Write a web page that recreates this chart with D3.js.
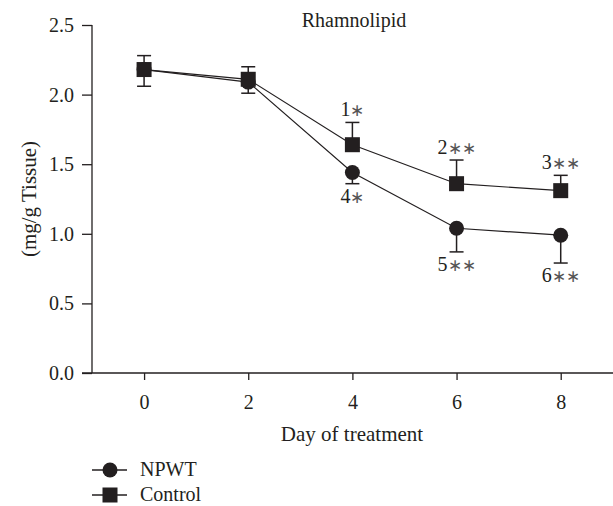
<!DOCTYPE html>
<html>
<head>
<meta charset="utf-8">
<script src="https://cdn.jsdelivr.net/npm/d3@7"></script>
<style>
  body { margin: 0; background: #fff; }
</style>
</head>
<body>
<svg width="613" height="506"></svg>
<script>
const days = [0, 2, 4, 6, 8];
const npwt = [2.18, 2.09, 1.44, 1.04, 0.99];
const npwtErr = [0.12, 0.08, 0.08, 0.17, 0.20];
const control = [2.18, 2.11, 1.64, 1.36, 1.31];
const controlErr = [0.10, 0.09, 0.16, 0.17, 0.11];
const controlMarks = ["", "", "1", "2", "3"];
const controlStars = ["", "", "∗", "∗∗", "∗∗"];
const npwtMarks = ["", "", "4", "5", "6"];
const npwtStars = ["", "", "∗", "∗∗", "∗∗"];
const yTicks = [0, 0.5, 1.0, 1.5, 2.0, 2.5];

const ink = "#231f20";
const font = "'Liberation Serif', 'Times New Roman', serif";
const svg = d3.select("svg");

const x = d3.scaleLinear().domain([-1, 9.1]).range([92, 618]);
const y = d3.scaleLinear().domain([0, 2.5]).range([373, 25]);

// AXES
const yAxis = svg.append("g")
  .attr("transform", "translate(92,0)")
  .call(d3.axisLeft(y).tickValues(yTicks).tickFormat(d3.format(".1f")).tickSize(10).tickSizeOuter(0));
yAxis.select(".domain").attr("d", `M0,${y(2.5)}V${y(0)}`);

const xAxis = svg.append("g")
  .attr("transform", "translate(0,373)")
  .call(d3.axisBottom(x).tickValues(days).tickSize(7).tickSizeOuter(0));
xAxis.select(".domain").attr("d", "M82,0H613");

svg.selectAll(".domain, .tick line").attr("stroke", ink).attr("stroke-width", 1.3);
yAxis.selectAll(".tick text").style("font-family", font).attr("font-size", 20).attr("x", -18).attr("fill", ink);
xAxis.selectAll(".tick text").style("font-family", font).attr("font-size", 20).attr("y", 22).attr("fill", ink);

// TITLES
function label(px, py, size, txt, rot) {
  return svg.append("text")
    .attr("transform", `translate(${px},${py})` + (rot ? " rotate(-90)" : ""))
    .attr("text-anchor", "middle").style("font-family", font)
    .attr("font-size", size).attr("fill", ink).text(txt);
}
label(354, 27, 20, "Rhamnolipid");
label(352, 441, 21, "Day of treatment");
label(36, 199, 21, "(mg/g Tissue)", true);

// LINES
const line = d3.line().x((d, i) => x(days[i])).y(d => y(d));
svg.append("path").attr("d", line(npwt)).attr("fill", "none").attr("stroke", ink).attr("stroke-width", 1.2);
svg.append("path").attr("d", line(control)).attr("fill", "none").attr("stroke", ink).attr("stroke-width", 1.2);

// ERROR BARS (control up, npwt down)
const err = svg.append("g").attr("stroke", ink).attr("stroke-width", 1.5);
days.forEach((d, i) => {
  const cx = x(d);
  const cTop = y(control[i] + controlErr[i]);
  err.append("line").attr("x1", cx).attr("x2", cx).attr("y1", y(control[i])).attr("y2", cTop);
  err.append("line").attr("x1", cx - 7).attr("x2", cx + 7).attr("y1", cTop).attr("y2", cTop);
  const nBot = y(npwt[i] - npwtErr[i]);
  err.append("line").attr("x1", cx).attr("x2", cx).attr("y1", y(npwt[i])).attr("y2", nBot);
  err.append("line").attr("x1", cx - 7).attr("x2", cx + 7).attr("y1", nBot).attr("y2", nBot);
});

// MARKERS
svg.append("g").selectAll("circle").data(npwt).join("circle")
  .attr("cx", (d, i) => x(days[i])).attr("cy", d => y(d)).attr("r", 7.5).attr("fill", ink);
svg.append("g").selectAll("rect").data(control).join("rect")
  .attr("x", (d, i) => x(days[i]) - 7.5).attr("y", d => y(d) - 7.5)
  .attr("width", 15).attr("height", 15).attr("fill", ink);

// SIGNIFICANCE LABELS
function addLabel(cx, cy, num, stars) {
  const t = svg.append("text").attr("x", cx).attr("y", cy).attr("text-anchor", "middle")
    .style("font-family", font).attr("font-size", 20).attr("fill", ink);
  t.append("tspan").text(num);
  t.append("tspan").attr("font-size", 17).attr("fill", "#555").text(stars);
}
days.forEach((d, i) => {
  if (controlMarks[i]) addLabel(x(d), y(control[i] + controlErr[i]) - 6, controlMarks[i], controlStars[i]);
  if (npwtMarks[i]) addLabel(x(d), y(npwt[i] - npwtErr[i]) + 19, npwtMarks[i], npwtStars[i]);
});

// LEGEND
const legend = [{name: "NPWT", shape: "circle"}, {name: "Control", shape: "square"}];
legend.forEach((l, i) => {
  const ly = 470 + i * 25;
  svg.append("line").attr("x1", 92).attr("x2", 127).attr("y1", ly).attr("y2", ly).attr("stroke", ink).attr("stroke-width", 1.3);
  if (l.shape === "circle") svg.append("circle").attr("cx", 110).attr("cy", ly).attr("r", 7.5).attr("fill", ink);
  else svg.append("rect").attr("x", 102.5).attr("y", ly - 7.5).attr("width", 15).attr("height", 15).attr("fill", ink);
  svg.append("text").attr("x", 140).attr("y", ly + 6).style("font-family", font)
    .attr("font-size", 20).attr("fill", ink).text(l.name);
});
</script>
</body>
</html>
